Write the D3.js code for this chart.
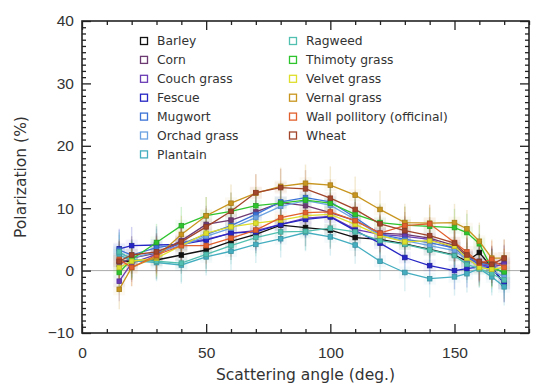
<!DOCTYPE html>
<meta charset="utf-8">
<title>Pollen polarization</title>
<style>
  body { margin: 0; background: #fff; }
  svg { font-family: "DejaVu Sans", sans-serif; }
  .tick text { fill: #333; }
</style>
<body>
<script src="https://d3js.org/d3.v7.min.js"></script>
<script>
// scattering angles (deg.)
var angles = [15, 20, 30, 40, 50, 60, 70, 80, 90, 100, 110, 120, 130, 140, 150, 155, 160, 165, 170];
// shared error bar half-length (%)
var errs = [3.2, 3, 3, 3, 3, 3, 3, 3, 3, 3, 3, 3, 3, 3, 3, 3, 3, 3, 3];

var names = ["Barley", "Corn", "Couch grass", "Fescue", "Mugwort", "Orchad grass", "Plantain",
             "Ragweed", "Thimoty grass", "Velvet grass", "Vernal grass", "Wall pollitory (officinal)", "Wheat"];
var colors = ["#111111", "#6e3a72", "#6a3cb4", "#2626c4", "#3a72d6", "#6aa2e2", "#44aec0",
              "#52c0b0", "#2ec42e", "#dede2c", "#c8951e", "#e2602e", "#a2452a"];

var barley   = [1.5, 1.5, 1.7, 2.5, 3.3, 4.7, 5.8, 7.3, 6.9, 6.5, 5.3, 5.0, 4.3, 3.4, 2.5, 1.5, 2.9, 0.5, -2.0];
var corn     = [1.0, 2.0, 2.8, 4.8, 7.4, 8.1, 9.4, 10.9, 10.4, 9.3, 8.0, 6.0, 5.8, 5.2, 4.0, 2.3, 1.5, 1.0, 1.2];
var couch    = [-1.7, 1.2, 2.6, 4.5, 5.0, 6.0, 6.4, 7.4, 8.4, 8.7, 6.6, 5.8, 5.5, 5.0, 3.6, 2.1, 1.0, 0.6, 1.0];
var fescue   = [3.5, 4.0, 4.1, 4.2, 4.9, 6.0, 6.2, 7.4, 8.2, 8.6, 6.4, 4.4, 2.1, 0.8, 0.0, 0.3, 0.6, 0.5, -2.1];
var mugwort  = [3.3, 2.5, 3.7, 4.3, 5.8, 7.2, 9.0, 11.0, 11.7, 11.0, 8.5, 5.8, 5.0, 4.5, 3.6, 2.2, 1.2, 0.8, -0.5];
var orchad   = [2.8, 2.0, 3.0, 4.0, 5.5, 6.8, 8.5, 10.3, 11.2, 10.5, 8.2, 5.6, 4.8, 4.0, 3.2, 1.8, 0.8, 0.0, -1.0];
var plantain = [2.5, 1.6, 1.3, 0.9, 2.2, 3.1, 4.2, 5.1, 6.1, 5.4, 4.1, 1.5, -0.3, -1.3, -1.0, -0.5, 0.3, -1.0, -2.6];
var ragweed  = [3.0, 1.8, 1.5, 1.2, 2.6, 4.0, 5.3, 6.2, 6.3, 6.8, 6.2, 4.8, 4.2, 3.3, 2.4, 1.0, 0.3, -0.5, -1.5];
var thimoty  = [-0.3, 1.8, 4.5, 7.2, 8.8, 9.5, 10.4, 10.8, 11.3, 10.8, 9.0, 7.7, 7.3, 7.1, 6.9, 6.1, 4.3, 0.4, -0.2];
var velvet   = [0.5, 1.5, 2.0, 4.0, 6.0, 7.0, 7.6, 8.1, 8.8, 9.0, 7.4, 5.6, 4.6, 4.8, 3.9, 2.0, 0.5, 0.2, 0.5];
var vernal   = [-3.0, 0.5, 2.2, 5.8, 8.8, 10.8, 12.4, 13.5, 14.0, 13.7, 12.1, 9.8, 7.7, 7.6, 7.7, 6.7, 4.7, 2.0, 2.0];
var wall     = [1.8, 0.5, 2.5, 4.0, 4.0, 5.2, 6.5, 8.5, 9.3, 9.4, 8.0, 6.0, 7.2, 7.5, 4.5, 3.0, 1.2, 1.8, 0.5];
var wheat    = [1.5, 2.5, 3.0, 4.6, 7.0, 9.5, 12.5, 13.3, 13.1, 11.6, 9.8, 7.5, 6.4, 5.6, 4.4, 2.5, 1.4, 1.0, 2.0];

var values = [barley, corn, couch, fescue, mugwort, orchad, plantain, ragweed, thimoty, velvet, vernal, wall, wheat];

var series = names.map(function(n, i) {
  return { name: n, color: colors[i],
           pts: angles.map(function(a, j) { return { x: a, y: values[i][j], e: errs[j] }; }) };
});

var margin = {top: 21, right: 21, bottom: 57, left: 82},
    width = 550 - margin.left - margin.right,
    height = 390 - margin.top - margin.bottom;

var x = d3.scaleLinear().domain([0, 180]).range([0, width]);
var y = d3.scaleLinear().domain([-10, 40]).range([height, 0]);

var svg = d3.select("body").append("svg")
    .attr("width", 550)
    .attr("height", 390)
  .append("g")
    .attr("transform", "translate(" + margin.left + "," + margin.top + ")");

// zero line
svg.append("line")
    .attr("x1", x(0)).attr("x2", x(180))
    .attr("y1", y(0)).attr("y2", y(0))
    .attr("stroke", "#aaa").attr("stroke-width", 1);

// faint halos round the markers
series.forEach(function(s) {
  svg.append("g").selectAll("rect")
      .data(s.pts)
    .enter().append("rect")
      .attr("x", function(d) { return x(d.x) - 6; })
      .attr("y", function(d) { return y(d.y) - 6; })
      .attr("width", 12).attr("height", 12)
      .attr("fill", s.color)
      .attr("opacity", 0.06);
});

// error bars
series.forEach(function(s) {
  svg.append("g").selectAll("line")
      .data(s.pts)
    .enter().append("line")
      .attr("x1", function(d) { return x(d.x); })
      .attr("x2", function(d) { return x(d.x); })
      .attr("y1", function(d) { return y(d.y - d.e); })
      .attr("y2", function(d) { return y(d.y + d.e); })
      .attr("stroke", s.color)
      .attr("stroke-width", 1.4)
      .attr("opacity", 0.2);
});

var line = d3.line()
    .x(function(d) { return x(d.x); })
    .y(function(d) { return y(d.y); });

series.forEach(function(s) {
  svg.append("path")
      .datum(s.pts)
      .attr("fill", "none")
      .attr("stroke", s.color)
      .attr("stroke-width", 1.3)
      .attr("d", line);

  svg.append("g").selectAll("rect")
      .data(s.pts)
    .enter().append("rect")
      .attr("x", function(d) { return x(d.x) - 2.3; })
      .attr("y", function(d) { return y(d.y) - 2.3; })
      .attr("width", 4.6).attr("height", 4.6)
      .attr("fill", s.color)
      .attr("stroke", d3.color(s.color).darker(0.5))
      .attr("stroke-width", 0.8);
});

// axes: ticks inward on all four sides
function minor(ax, vals) { return ax.tickValues(vals).tickSize(-4).tickFormat(""); }
var xMinor = d3.range(0, 181, 10).filter(function(v) { return v % 50; });
var yMinor = d3.range(-10, 41, 1).filter(function(v) { return v % 10; });

svg.append("g").attr("transform", "translate(0," + height + ")")
    .call(minor(d3.axisBottom(x), xMinor));
svg.append("g").call(minor(d3.axisTop(x), xMinor));
svg.append("g").call(minor(d3.axisLeft(y), yMinor));
svg.append("g").attr("transform", "translate(" + width + ",0)")
    .call(minor(d3.axisRight(y), yMinor));

svg.append("g").attr("class", "x axis")
    .attr("transform", "translate(0," + height + ")")
    .call(d3.axisBottom(x).tickValues([0, 50, 100, 150]).tickSize(-9).tickPadding(14));
svg.append("g")
    .call(d3.axisTop(x).tickValues([0, 50, 100, 150]).tickSize(-9).tickFormat(""));
svg.append("g").attr("class", "y axis")
    .call(d3.axisLeft(y).tickValues([-10, 0, 10, 20, 30, 40]).tickSize(-9).tickPadding(8)
      .tickFormat(function(d) { return d < 0 ? "\u2212" + (-d) : d; }));
svg.append("g").attr("transform", "translate(" + width + ",0)")
    .call(d3.axisRight(y).tickValues([-10, 0, 10, 20, 30, 40]).tickSize(-9).tickFormat(""));

svg.selectAll(".domain").remove();
svg.selectAll(".tick line").attr("stroke", "#222").attr("stroke-width", 1.3);
svg.selectAll(".tick text").style("font-size", "15.5px");

svg.append("rect")
    .attr("width", width).attr("height", height)
    .attr("fill", "none").attr("stroke", "#222").attr("stroke-width", 1.6);

svg.append("text")
    .attr("x", width / 2).attr("y", height + 47)
    .attr("text-anchor", "middle")
    .attr("fill", "#333")
    .style("font-size", "15.5px")
    .text("Scattering angle (deg.)");

svg.append("text")
    .attr("transform", "translate(" + (-56) + "," + (177 - margin.top) + ") rotate(-90)")
    .attr("text-anchor", "middle")
    .attr("fill", "#333")
    .style("font-size", "15.5px")
    .text("Polarization (%)");

// legend, two columns
var legend = svg.append("g").selectAll("g")
    .data(series)
  .enter().append("g")
    .attr("transform", function(d, i) {
      var col = i < 7 ? 0 : 1, row = i < 7 ? i : i - 7;
      return "translate(" + (col ? 211 : 62) + "," + (20 + row * 18.9) + ")";
    });

legend.append("rect")
    .attr("x", -3.5).attr("y", -3.5)
    .attr("width", 7).attr("height", 7)
    .attr("fill", "none")
    .attr("stroke", function(d) { return d.color; })
    .attr("stroke-width", 1.3);

legend.append("text")
    .attr("x", 13).attr("dy", "0.36em")
    .attr("fill", "#333")
    .style("font-size", "12.3px")
    .text(function(d) { return d.name; });
</script>
</body>
